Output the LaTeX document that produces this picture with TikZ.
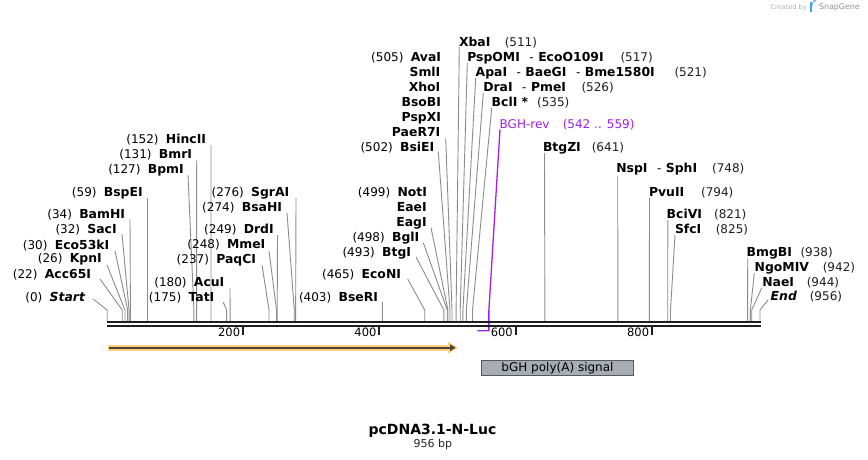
\documentclass[tikz,border=0pt]{standalone}
\usepackage{fontspec}
\setmainfont{DejaVu Sans}
\definecolor{enzgray}{HTML}{8C8C8C}
\definecolor{bbcol}{HTML}{1E1E1E}
\definecolor{primer}{HTML}{A020F0}
\definecolor{featfill}{HTML}{FFD080}
\definecolor{featdark}{HTML}{4D4536}
\definecolor{boxfill}{HTML}{A8ADB5}
\definecolor{boxline}{HTML}{56595E}
\definecolor{sgblue}{HTML}{3FA6DE}
\tikzset{
  lbl/.style={inner sep=0pt,outer sep=0pt,font=\fontsize{12}{14}\selectfont,text=black},
  num/.style={lbl,text=black!88},
  enz/.style={draw=enzgray,line width=0.9pt},
}
\newcommand\B[1]{{\fontsize{12.4}{14}\selectfont\bfseries #1}}
\newcommand\gapL{\hspace{7.3pt}}
\newcommand\dsep{\hspace{9.5pt}-\hspace{4.5pt}}
% left label: id, right x, centre y, text
\newcommand\mkL[4]{\node[lbl,anchor=base east] (#1) at (#2+1,#3+4.3) {#4};}
% right label: id, left x, centre y, text
\newcommand\mkR[4]{\node[lbl,anchor=base west] (#1) at (#2-1,#3+4.3) {#4};}
% right number
\newcommand\mkN[4]{\node[num,anchor=base west] (#1) at (#2-1.2,#3+4.3) {#4};}
% cut line: id, start x, start y, bp
\newcommand\mkC[4]{%
  \coordinate (#1a) at (#2,#3);
  \coordinate (#1k) at ({107.2+0.6828*#4},310);
  \coordinate (#1s) at ({107.2+0.6828*#4},321);
  \draw[enz] (#1a) -- (#1k) -- (#1s);}
\begin{document}
\begin{tikzpicture}[x=1pt,y=-1pt]
\useasboundingbox (0,0) rectangle (868,460);
\fill[white] (0,0) rectangle (868,460);

% ---------- left-side labels ----------
\mkL{Start}{84}{297}{(0)\gapL\B{\itshape Start}}
\mkC{Start}{93}{299}{0}
\mkL{Acc65I}{90}{274}{(22)\gapL\B{Acc65I}}
\mkC{Acc65I}{100}{279}{22}
\mkL{KpnI}{100.7}{258}{(26)\gapL\B{KpnI}}
\mkC{KpnI}{107}{265}{26}
\mkL{Eco53kI}{108.3}{245}{(30)\gapL\B{Eco53kI}}
\mkC{Eco53kI}{115}{251}{30}
\mkL{SacI}{115.7}{229}{(32)\gapL\B{SacI}}
\mkC{SacI}{122}{234}{32}
\mkL{BamHI}{124}{214}{(34)\gapL\B{BamHI}}
\mkC{BamHI}{130}{219}{34}
\mkL{BspEI}{141.7}{192}{(59)\gapL\B{BspEI}}
\mkC{BspEI}{147.5}{198}{59}
\mkL{BpmI}{182.7}{169}{(127)\gapL\B{BpmI}}
\mkC{BpmI}{188}{175}{127}
\mkL{BmrI}{191}{154}{(131)\gapL\B{BmrI}}
\mkC{BmrI}{196.7}{160}{131}
\mkL{HincII}{205}{139}{(152)\gapL\B{HincII}}
\mkC{HincII}{211}{145}{152}
\mkL{TatI}{213.3}{297}{(175)\gapL\B{TatI}}
\mkC{TatI}{223}{302}{175}
\mkL{AcuI}{223.3}{282}{(180)\gapL\B{AcuI}}
\mkC{AcuI}{230}{288}{180}
\mkL{PaqCI}{255}{259}{(237)\gapL\B{PaqCI}}
\mkC{PaqCI}{262}{265}{237}
\mkL{MmeI}{264.3}{244}{(248)\gapL\B{MmeI}}
\mkC{MmeI}{269}{251}{248}
\mkL{DrdI}{272.7}{229}{(249)\gapL\B{DrdI}}
\mkC{DrdI}{277.5}{235}{249}
\mkL{BsaHI}{281}{207}{(274)\gapL\B{BsaHI}}
\mkC{BsaHI}{287}{213}{274}
\mkL{SgrAI}{288.3}{192}{(276)\gapL\B{SgrAI}}
\mkC{SgrAI}{296}{198}{276}
\mkL{BseRI}{377}{297}{(403)\gapL\B{BseRI}}
\mkC{BseRI}{382.3}{302}{403}
\mkL{EcoNI}{400}{274}{(465)\gapL\B{EcoNI}}
\mkC{EcoNI}{407.7}{279}{465}
\mkL{BtgI}{410}{252}{(493)\gapL\B{BtgI}}
\mkC{BtgI}{416}{257}{493}
\mkL{BglI}{418.3}{237}{(498)\gapL\B{BglI}}
\mkC{BglI}{423.3}{242.7}{498}
\mkL{NotI}{426}{192}{(499)\gapL\B{NotI}}
\mkL{EaeI}{425.7}{207}{\B{EaeI}}
\mkL{EagI}{425.7}{222}{\B{EagI}}
\mkC{EagI}{431}{227.7}{499}
\mkL{BsiEI}{433.3}{147}{(502)\gapL\B{BsiEI}}
\mkC{BsiEI}{438.3}{151.7}{502}
\mkL{AvaI}{440}{57}{(505)\gapL\B{AvaI}}
\mkL{SmlI}{439.3}{72}{\B{SmlI}}
\mkL{XhoI}{439.3}{87}{\B{XhoI}}
\mkL{BsoBI}{440}{102}{\B{BsoBI}}
\mkL{PspXI}{440}{117}{\B{PspXI}}
\mkL{PaeR7I}{439.3}{132}{\B{PaeR7I}}
\mkC{PaeR7I}{445.7}{138}{505}

% ---------- right-side labels ----------
\mkR{XbaI}{460}{42}{\B{XbaI}}
\mkN{XbaIn}{506}{42}{(511)}
\mkC{XbaI}{459.3}{47}{511}
\mkR{PspOMI}{468.3}{57}{\B{PspOMI}\dsep\B{EcoO109I}}
\mkN{PspOMIn}{621.7}{57}{(517)}
\mkC{PspOMI}{467.3}{63}{517}
\mkR{ApaI}{476.7}{72}{\B{ApaI}\dsep\B{BaeGI}\dsep\B{Bme1580I}}
\mkN{ApaIn}{675.7}{72}{(521)}
\mkC{ApaI}{475.7}{78}{521}
\mkR{DraI}{484.3}{87}{\B{DraI}\dsep\B{PmeI}}
\mkN{DraIn}{582.7}{87}{(526)}
\mkC{DraI}{483.3}{93}{526}
\mkR{BclI}{492.7}{102}{\B{BclI *}}
\mkN{BclIn}{538.3}{102}{(535)}
\mkC{BclI}{491.7}{108}{535}
\mkR{BtgZI}{544}{147}{\B{BtgZI}}
\mkN{BtgZIn}{593}{147}{(641)}
\mkC{BtgZI}{544.5}{153}{641}
\mkR{NspI}{617.3}{168}{\B{NspI}\dsep\B{SphI}}
\mkN{NspIn}{713.3}{168}{(748)}
\mkC{NspI}{617.7}{176}{748}
\mkR{PvuII}{650}{192}{\B{PvuII}}
\mkN{PvuIIn}{702.3}{192}{(794)}
\mkC{PvuII}{649.5}{198}{794}
\mkR{BciVI}{667.7}{214}{\B{BciVI}}
\mkN{BciVIn}{715.3}{214}{(821)}
\mkC{BciVI}{667.8}{220}{821}
\mkR{SfcI}{676}{229}{\B{SfcI}}
\mkN{SfcIn}{717}{229}{(825)}
\mkC{SfcI}{675}{235}{825}
\mkR{BmgBI}{747.7}{252}{\B{BmgBI}}
\mkN{BmgBIn}{801.7}{252}{(938)}
\mkC{BmgBI}{747.7}{258}{938}
\mkR{NgoMIV}{755.7}{267}{\B{NgoMIV}}
\mkN{NgoMIVn}{824}{267}{(942)}
\mkC{NgoMIV}{754.3}{273}{942}
\mkR{NaeI}{763.3}{282}{\B{NaeI}}
\mkN{NaeIn}{808}{282}{(944)}
\mkC{NaeI}{761.7}{288}{944}
\mkR{End}{771.7}{296}{\B{\itshape End}}
\mkN{Endn}{811}{296}{(956)}
\mkC{End}{768}{300}{956}

% ---------- primer BGH-rev ----------
\node[lbl,anchor=base west,text=primer] (bghrev) at (499.7,128.3) {BGH-rev};
\node[num,anchor=base west,text=primer] (bghnum) at (562.8,128.3) {(542 .. 559)};
\coordinate (pa) at (500,129.5);
\coordinate (pk) at ({107.2+0.6828*559},310);
\coordinate (pb) at ({107.2+0.6828*559},330.7);
\coordinate (pc) at ({107.2+0.6828*542},330.7);
\draw[primer,line width=1.3pt] (pa) -- (pk) -- (pb) -- (pc);

% ---------- backbone ----------
\fill[bbcol] (107,321) rectangle (761,323.4);
\fill[bbcol] (107,324.8) rectangle (761,327.3);
\foreach \t in {200,400,600,800}{
  \fill[bbcol] ({106.6+0.6816*\t-1},327) rectangle ({106.6+0.6816*\t+1},334.5);
  \node[lbl,font=\fontsize{11.5}{13}\selectfont,anchor=base east] (tick\t) at ({106.6+0.6816*\t-2.8},336.7) {\t};
}

% ---------- feature arrow ----------
\coordinate (fS) at (108,347.7);
\coordinate (fE) at (455.7,347.7);
\fill[featfill] (108,344.7) rectangle (449,350.7);
\fill[featfill] (448,341.8) -- (458,347.7) -- (448,353.6) -- cycle;
\draw[featdark,line width=1.8pt] ([xshift=1pt]fS) -- (451,347.7);
\fill[featdark] (450,344.3) -- (fE) -- (450,351.1) -- cycle;

% ---------- bGH poly(A) box ----------
\node[draw=boxline,fill=boxfill,line width=1pt,minimum width=152.6pt,minimum height=14.7pt,
      inner sep=0pt,font=\fontsize{12}{14}\selectfont] (bgh) at (557.5,368.2) {bGH poly(A) signal};

% ---------- title ----------
\node[inner sep=0pt,anchor=base,font=\fontsize{14}{16}\selectfont\bfseries] (title) at (432.5,434) {pcDNA3.1-N-Luc};
\node[inner sep=0pt,anchor=base,font=\fontsize{11}{13}\selectfont,text=black!85] (size) at (432.8,447) {956 bp};

% ---------- watermark ----------
\node[inner sep=0pt,anchor=base west,font=\fontsize{6.6}{8}\selectfont,text=black!30] (cby) at (770.3,9.1) {Created by};
\fill[sgblue] (809.6,2.2) rectangle (812.2,11.8);
\fill[sgblue!70] (812.2,2.2) -- (814,2.2) arc[start angle=90,end angle=-90,radius=2.6] -- (812.2,7.4) -- cycle;
\node[inner sep=0pt,anchor=base west,font=\fontsize{7.9}{9}\selectfont,text=black!42] (sg) at (818.8,9.6) {SnapGene};
\end{tikzpicture}
\end{document}
